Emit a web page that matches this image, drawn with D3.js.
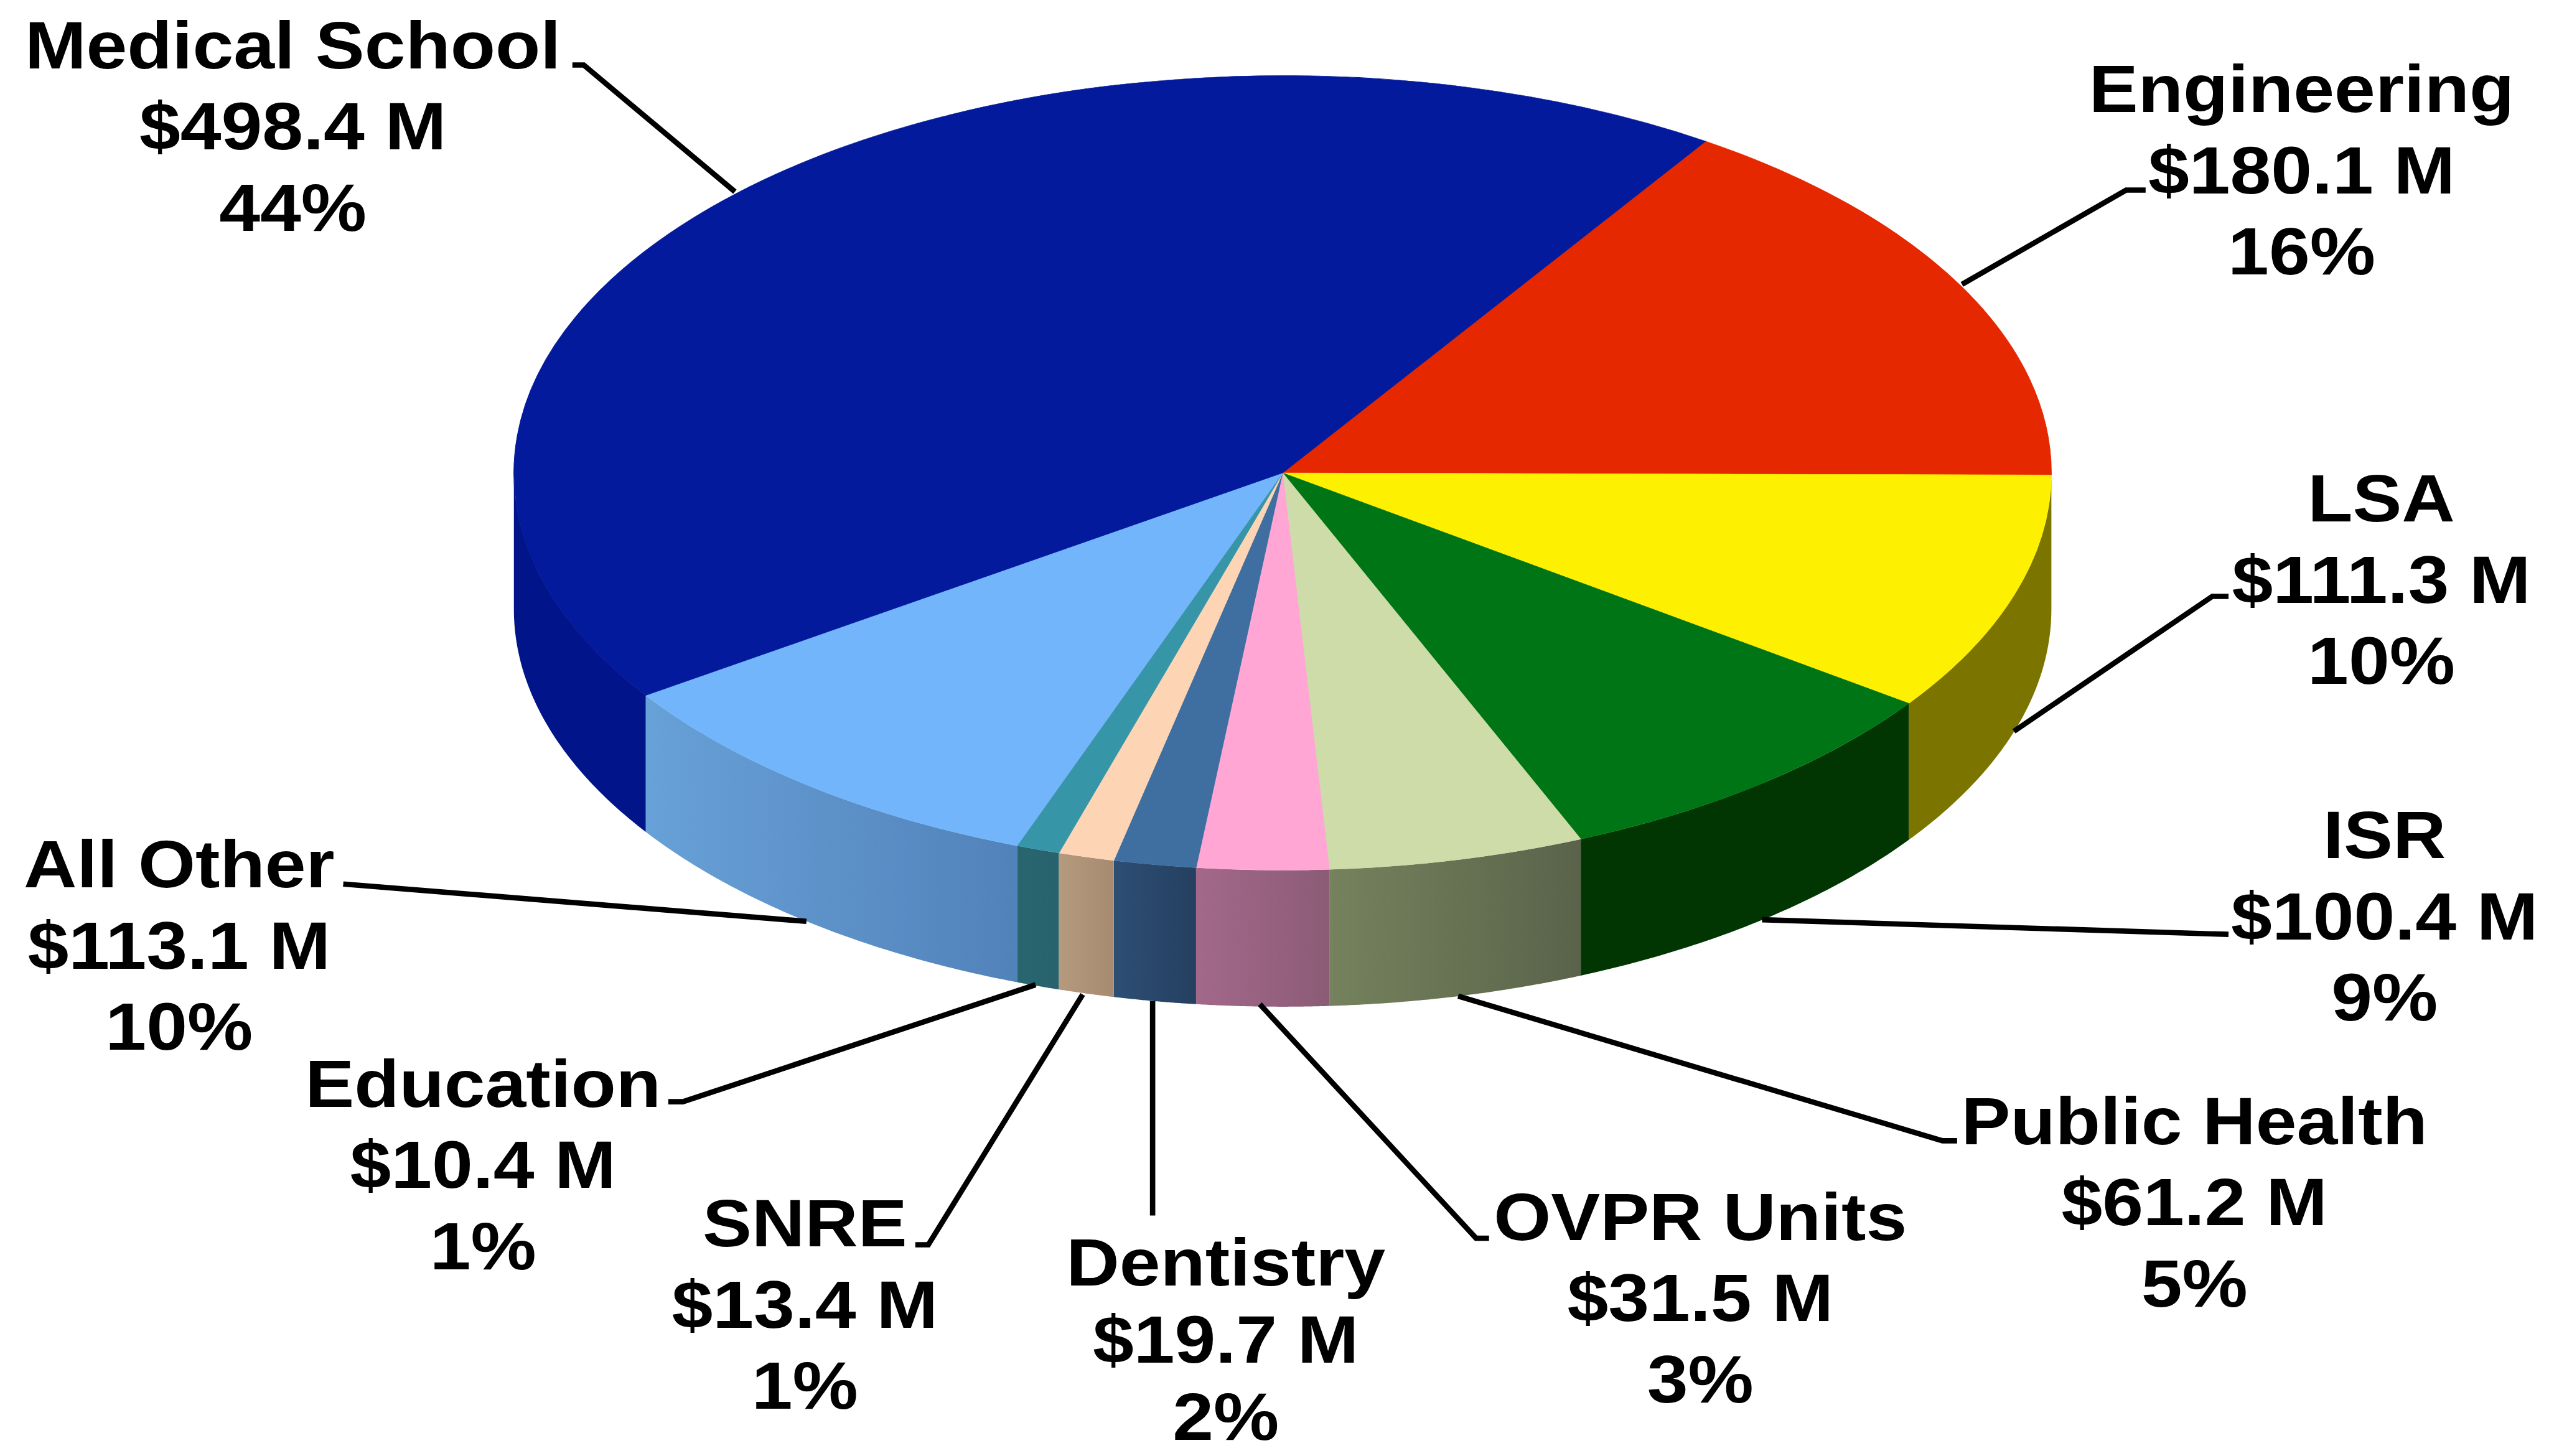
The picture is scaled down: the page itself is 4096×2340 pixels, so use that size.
<!DOCTYPE html>
<html>
<head>
<meta charset="utf-8">
<title>Research expenditures by unit</title>
<script src="https://cdn.jsdelivr.net/npm/d3@7"></script>
<style>
    html, body { margin: 0; padding: 0; background: #fff; }
    svg { display: block; }
    text { font-family: "Liberation Sans", Arial, sans-serif; font-weight: 700; fill: #000; }
</style>
</head>
<body>
<div id="chart"></div>
<script>
// Values as printed on the chart, clockwise from the red slice.
const categories = ['Engineering', 'LSA', 'ISR', 'Public Health', 'OVPR Units', 'Dentistry', 'SNRE', 'Education', 'All Other', 'Medical School']
const amounts = [180.1, 111.3, 100.4, 61.2, 31.5, 19.7, 13.4, 10.4, 113.1, 498.4]
const percents = [16, 10, 9, 5, 3, 2, 1, 1, 10, 44]

const topColors = ['#e62800', '#fdf000', '#007515', '#cddca8', '#ffa6d5', '#3e6fa0', '#fdd5b5', '#3795a8', '#72b5fa', '#041a9c']
const sideLeftColors = ['#7a1400', '#7b7500', '#013603', '#75825d', '#a3688a', '#2c4f74', '#b59a7e', '#28666f', '#67a1d7', '#021489']
const sideRightColors = ['#7a1400', '#7b7500', '#013603', '#5a634a', '#8b5b76', '#253f60', '#a68b70', '#28626d', '#5282ba', '#021489']

// Label placement, in the same order as categories: text centre, first baseline, line gap, leader line.
const labelLayout = [
    { cx: 1416, y: 69, gap: 50, leader: [[1320, 117], [1308, 117], [1207, 175]] },
    { cx: 1465, y: 321, gap: 50, leader: [[1371, 367], [1361, 367], [1239, 450]] },
    { cx: 1467, y: 528, gap: 50, leader: [[1371, 575], [1084, 566]] },
    { cx: 1350, y: 704, gap: 50, leader: [[1204, 702], [1195, 702], [897, 613]] },
    { cx: 1046, y: 763, gap: 50, leader: [[916, 762], [908, 762], [775, 618]] },
    { cx: 754, y: 791, gap: 47.5, leader: [[709, 748], [709, 616]] },
    { cx: 495, y: 767, gap: 50, leader: [[563, 766], [571, 766], [666, 612]] },
    { cx: 297, y: 681, gap: 50, leader: [[411, 678], [420, 678], [637, 606]] },
    { cx: 110, y: 546, gap: 50, leader: [[211, 544], [496, 567]] },
    { cx: 180, y: 42, gap: 50, leader: [[352, 40], [359, 40], [452, 118]] }
]

class Pie3D {
    constructor(divElementName) {
        // Everything is laid out on a 1568 x 896 grid and scaled up by the viewBox.
        this.width = 4096
        this.height = 2340
        this.cx = 789
        this.cy = 291
        this.rx = 473
        this.ry = 244.5
        this.depth = 84
        this.startAngle = 33.4 * Math.PI / 180
        this.fontSize = 41
        this.textStretch = 1.105

        this.svg = d3.select(divElementName).append('svg')
            .attr('width', this.width).attr('height', this.height)
            .attr('viewBox', '0 0 1568 896')
        this.defs = this.svg.append('defs')

        this.slices = d3.pie().sort(null)
            .startAngle(this.startAngle)
            .endAngle(this.startAngle + 2 * Math.PI)(amounts)

        this.drawWalls()
        this.drawTop()
        this.drawLeaders()
        this.drawLabels()
    }

    // Angle is measured clockwise from north, like d3.arc.
    rimX = (a) => this.cx + this.rx * Math.sin(a)
    rimY = (a) => this.cy - this.ry * Math.cos(a)

    drawWalls = () => {
        // Only the part of the rim between east and west faces the viewer.
        const front0 = Math.PI / 2
        const front1 = 3 * Math.PI / 2
        const line = d3.line()

        this.slices.forEach((s, i) => {
            const a0 = Math.max(s.startAngle, front0)
            const a1 = Math.min(s.endAngle, front1)
            if (a1 <= a0) return

            const angles = d3.range(0, 61).map(k => a0 + (a1 - a0) * k / 60)
            const upper = angles.map(a => [this.rimX(a), this.rimY(a)])
            const lower = angles.map(a => [this.rimX(a), this.rimY(a) + this.depth]).reverse()

            const gradId = 'wall-' + i
            const grad = this.defs.append('linearGradient').attr('id', gradId)
                .attr('gradientUnits', 'userSpaceOnUse')
                .attr('x1', this.rimX(a1)).attr('x2', this.rimX(a0))
                .attr('y1', 0).attr('y2', 0)
            grad.append('stop').attr('offset', 0).attr('stop-color', sideLeftColors[i])
            grad.append('stop').attr('offset', 1).attr('stop-color', sideRightColors[i])

            this.svg.append('path')
                .attr('d', line(upper.concat(lower)) + 'Z')
                .attr('fill', 'url(#' + gradId + ')')
        })
    }

    drawTop = () => {
        const arc = d3.arc().innerRadius(0).outerRadius(this.rx)
        const top = this.svg.append('g')
            .attr('transform', 'translate(' + this.cx + ',' + this.cy + ') scale(1,' + (this.ry / this.rx) + ')')
        top.selectAll('path').data(this.slices).join('path')
            .attr('d', arc)
            .attr('fill', (d, i) => topColors[i])
            .attr('stroke', (d, i) => topColors[i])
            .attr('stroke-width', 0.4)
    }

    drawLeaders = () => {
        this.svg.append('g').selectAll('path').data(labelLayout).join('path')
            .attr('d', d => d3.line()(d.leader))
            .attr('fill', 'none')
            .attr('stroke', '#000')
            .attr('stroke-width', 3.3)
    }

    drawLabels = () => {
        categories.forEach((name, i) => {
            const lines = [name, '$' + amounts[i].toFixed(1) + ' M', percents[i] + '%']
            lines.forEach((str, k) => {
                const t = this.svg.append('text')
                    .attr('x', labelLayout[i].cx)
                    .attr('y', labelLayout[i].y + k * labelLayout[i].gap)
                    .attr('text-anchor', 'middle')
                    .attr('font-size', this.fontSize)
                    .text(str)
                // The original lettering is a bit wider than plain Arial Bold.
                t.attr('textLength', t.node().getComputedTextLength() * this.textStretch)
                    .attr('lengthAdjust', 'spacingAndGlyphs')
            })
        })
    }
}

new Pie3D('#chart')
</script>
</body>
</html>
